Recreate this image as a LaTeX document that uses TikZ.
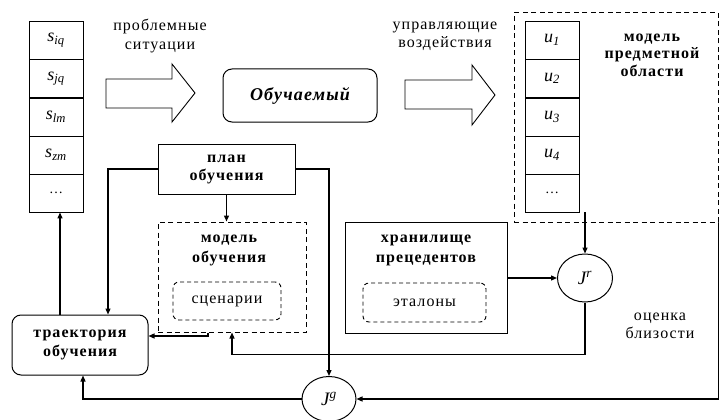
\documentclass[tikz,border=0pt]{standalone}
\usepackage{fontspec}
\setmainfont{Liberation Serif}
\newfontfamily\spc[LetterSpace=6.5]{Liberation Serif}
\usetikzlibrary{arrows.meta,shapes.geometric,calc}
\tikzset{
  cell/.style={draw,line width=0.9pt,minimum width=54pt,minimum height=38pt,inner sep=0pt,font=\fontsize{18}{18}\selectfont\itshape},
  solidbox/.style={draw,line width=1pt,inner sep=0pt,align=center,font=\spc\fontsize{16}{18}\selectfont\bfseries},
  dbox/.style={draw,line width=1pt,dash pattern=on 5pt off 3.5pt,inner sep=0pt},
  inbox/.style={draw,line width=0.9pt,dash pattern=on 4pt off 3pt,rounded corners=6pt,inner sep=0pt,font=\spc\fontsize{16}{18}\selectfont},
  rbox/.style={draw,line width=1pt,rounded corners=9pt,inner sep=0pt,align=center,font=\spc\fontsize{16}{19}\selectfont\bfseries},
  circ/.style={draw,line width=1pt,ellipse,inner sep=0pt,font=\fontsize{19}{19}\selectfont\itshape},
  lbl/.style={align=center,inner sep=0pt,font=\spc\fontsize{16}{18}\selectfont},
  conn/.style={line width=1.3pt,-{Triangle[length=6pt,width=5pt]}},
  bigarrow/.style={draw,line width=0.9pt,fill=white},
}
\begin{document}
\begin{tikzpicture}[x=1pt,y=-1pt]
\useasboundingbox (0,0) rectangle (720,420);
% left column
\node[cell] (s1) at (56,40) {s\textsubscript{iq}};
\node[cell] (s2) at (56,78.5) {s\textsubscript{jq}};
\node[cell] (s3) at (56,117) {s\textsubscript{lm}};
\node[cell] (s4) at (56,155) {s\textsubscript{zm}};
\node[cell,font=\fontsize{14}{14}\selectfont] (s5) at (56,193) {\ldots};
% labels top
\node[lbl] (lps) at (160,36) {проблемные\\ситуации};
\node[lbl] (lud) at (445,36) {управляющие\\воздействия};
% big arrows
\draw[bigarrow] (106,79) -- (172,79) -- (172,64) -- (195,93) -- (172,122) -- (172,108) -- (106,108) -- cycle;
\draw[bigarrow] (405,80) -- (472,80) -- (472,65) -- (495,95) -- (472,125) -- (472,109) -- (405,109) -- cycle;
% learner
\node[rbox,minimum width=154pt,minimum height=53pt,font=\spc\fontsize{18}{18}\selectfont\bfseries\itshape] (obu) at (300,95.5) {Обучаемый};
% domain model
\node[dbox,minimum width=204pt,minimum height=209pt] (dm) at (616,117.5) {};
\node[cell] (u1) at (552,40) {u\textsubscript{1}};
\node[cell] (u2) at (552,78.5) {u\textsubscript{2}};
\node[cell] (u3) at (552,117) {u\textsubscript{3}};
\node[cell] (u4) at (552,155) {u\textsubscript{4}};
\node[cell,font=\fontsize{14}{14}\selectfont] (u5) at (552,193) {\ldots};
\node[lbl,font=\spc\fontsize{16}{17.5}\selectfont\bfseries] (dml) at (652,55) {модель\\предметной\\области};
% plan
\node[solidbox,minimum width=137pt,minimum height=50pt] (plan) at (226.5,169) {план\\обучения};
% learning model
\node[dbox,minimum width=148pt,minimum height=110pt] (mo) at (232,277) {};
\node[lbl,font=\spc\fontsize{16}{20}\selectfont\bfseries] (mol) at (229,250) {модель\\обучения};
\node[inbox,minimum width=108pt,minimum height=38pt] (scn) at (227,301) {сценарии};
% trajectory
\node[rbox,minimum width=136pt,minimum height=60pt] (traj) at (80,345) {траектория\\обучения};
% precedent storage
\node[solidbox,minimum width=162pt,minimum height=111pt] (hr) at (426,277.5) {};
\node[lbl,font=\spc\fontsize{16}{20}\selectfont\bfseries] (hrl) at (426,250) {хранилище\\прецедентов};
\node[inbox,minimum width=123pt,minimum height=39pt] (etl) at (424.5,302.5) {эталоны};
% circles
\node[circ,minimum width=55pt,minimum height=48pt] (Jr) at (585,278) {J\textsuperscript{r}};
\node[circ,minimum width=54pt,minimum height=45pt] (Jg) at (329,399) {J\textsuperscript{g}};
\node[lbl] (ob) at (660,326) {оценка\\близости};
% connectors
\draw[conn] (plan.west) -| ([xshift=28pt]traj.north);
\draw[conn] (plan.east) -| (Jg.north);
\draw[conn] (plan.south) -- (plan.south |- mo.north);
\draw[conn] ([xshift=-20pt]traj.north) -- ([xshift=-20pt]traj.north |- s5.south);
\draw[conn] ([xshift=-24pt]mo.south) |- ([yshift=9pt]traj.east);
\draw[conn] (Jr.south) |- ($(mo.south)+(0,22)$) -- (mo.south);
\draw[conn] (Jg.west) -| ([xshift=3pt]traj.south);
\draw[conn] (dm.south east) |- (Jg.east);
\draw[conn] (hr.east |- Jr.west) -- (Jr.west);
\draw[conn] (u5.south -| Jr.north) -- (Jr.north);
\end{tikzpicture}
\end{document}
